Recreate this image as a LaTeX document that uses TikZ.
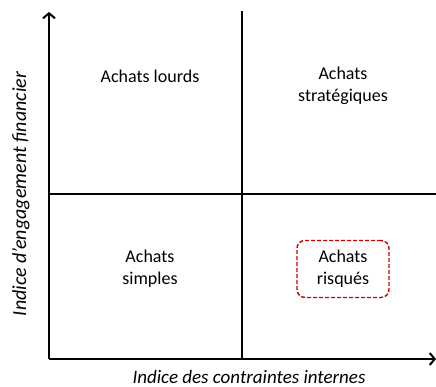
\documentclass[tikz,border=0pt]{standalone}
\usepackage{fontspec}
\setmainfont{Carlito}
\usetikzlibrary{arrows.meta}
\begin{document}
\begin{tikzpicture}[x=1pt,y=1pt,
    axe/.style={line width=1.6pt,-{Straight Barb[length=5pt,width=12pt,line width=2pt]}},
    partage/.style={line width=1.1pt},
    quadrant/.style={align=center,font=\fontsize{18}{22}\selectfont},
    etiquette/.style={font=\fontsize{19}{22}\selectfont\itshape},
    risque/.style={draw=red!80!black,dash pattern=on 4pt off 2pt,line width=1.4pt,
        rounded corners=8pt,minimum width=92pt,minimum height=57pt}]
    \useasboundingbox (0,0) rectangle (436,387);
    % Ejes
    \coordinate (o) at (49,28);
    \coordinate (ytop) at (49,375);
    \coordinate (xend) at (436,28);
    \draw[axe] (o) -- (ytop);
    \draw[axe] (o) -- (xend);

    % Líneas de separación
    \coordinate (hg) at (49,193);
    \coordinate (hd) at (436,193);
    \coordinate (vb) at (242,28);
    \coordinate (vh) at (242,376);
    \draw[partage] (hg) -- (hd);
    \draw[partage] (vb) -- (vh);

    % Cuadrantes
    \node[quadrant] (lourds) at (150,311) {Achats lourds};
    \node[quadrant] (strat) at (343,301) {Achats\\stratégiques};
    \node[quadrant] (simples) at (150,118) {Achats\\simples};
    \node[quadrant,risque] (risques) at (343,118) {Achats\\risqués};

    % Etiquetas de los ejes
    \node[etiquette,rotate=90,font=\fontsize{20}{22}\selectfont\itshape] (ylab) at (21,193) {Indice d'engagement financier};
    \node[etiquette] (xlab) at (249,10) {Indice des contraintes internes};
\end{tikzpicture}
\end{document}
